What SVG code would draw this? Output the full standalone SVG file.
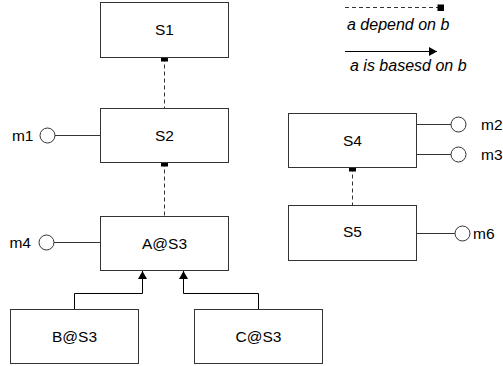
<svg xmlns="http://www.w3.org/2000/svg" width="503" height="366" viewBox="0 0 503 366">
  <style>
    .box { fill: #ffffff; stroke: #333333; stroke-width: 1; }
    .lbl { font-family: "Liberation Sans", Arial, sans-serif; font-size: 15.5px; fill: #000000; text-anchor: middle; }
    .port { font-family: "Liberation Sans", Arial, sans-serif; font-size: 15.5px; fill: #000000; }
    .legend { font-family: "Liberation Sans", Arial, sans-serif; font-size: 16px; font-style: italic; fill: #000000; }
    .dep { fill: none; stroke: #333333; stroke-width: 1; stroke-dasharray: 4 3; }
    .base { fill: none; stroke: #000000; stroke-width: 1; }
    .iface { fill: #ffffff; stroke: #333333; stroke-width: 1; }
    .wire { fill: none; stroke: #333333; stroke-width: 1; }
    .sq { fill: #000000; }
  </style>
  <defs>
    <marker id="arrow" viewBox="0 0 10 10" refX="10" refY="5" markerWidth="8" markerHeight="9" markerUnits="userSpaceOnUse" orient="auto" preserveAspectRatio="none">
      <path d="M0,0 L10,5 L0,10 Z" fill="#000000"/>
    </marker>
  </defs>

  <!-- legend -->
  <g id="legend">
    <line class="dep" x1="345" y1="7.5" x2="438" y2="7.5"/>
    <rect class="sq" x="437.5" y="4.5" width="6.5" height="6.5"/>
    <text class="legend" x="347" y="30">a depend on b</text>
    <line class="base" x1="345" y1="51.5" x2="437" y2="51.5" marker-end="url(#arrow)"/>
    <text class="legend" x="350" y="71">a is basesd on b</text>
  </g>

  <!-- connectors -->
  <g id="connectors">
    <!-- dependencies -->
    <line class="dep" x1="164.5" y1="57.5" x2="164.5" y2="108.5"/>
    <line class="dep" x1="164.5" y1="162.5" x2="164.5" y2="216.5"/>
    <line class="dep" x1="352.5" y1="167.5" x2="352.5" y2="205.5"/>
    <rect class="sq" x="161" y="54.5" width="7" height="7"/>
    <rect class="sq" x="161" y="159.5" width="7" height="7"/>
    <rect class="sq" x="349" y="164.5" width="7" height="7"/>
    <!-- basis -->
    <polyline class="base" points="74.5,309.5 74.5,293.5 142.5,293.5 142.5,271" marker-end="url(#arrow)"/>
    <polyline class="base" points="258.5,309.5 258.5,293.5 183.5,293.5 183.5,271" marker-end="url(#arrow)"/>
    <!-- interface wires -->
    <line class="wire" x1="55" y1="135.5" x2="100.5" y2="135.5"/>
    <line class="wire" x1="54" y1="242.5" x2="100.5" y2="242.5"/>
    <line class="wire" x1="416.5" y1="124.5" x2="451" y2="124.5"/>
    <line class="wire" x1="416.5" y1="154.5" x2="451" y2="154.5"/>
    <line class="wire" x1="416.5" y1="233.5" x2="455" y2="233.5"/>
  </g>

  <!-- nodes -->
  <g id="S1">
    <rect class="box" x="100.5" y="2.5" width="128" height="55"/>
    <text class="lbl" x="164.5" y="35">S1</text>
  </g>
  <g id="S2">
    <rect class="box" x="100.5" y="108.5" width="128" height="54"/>
    <text class="lbl" x="164.5" y="140.5">S2</text>
  </g>
  <g id="A_S3">
    <rect class="box" x="100.5" y="216.5" width="128" height="54"/>
    <text class="lbl" x="164.5" y="248.5">A@S3</text>
  </g>
  <g id="B_S3">
    <rect class="box" x="10.5" y="309.5" width="128" height="54"/>
    <text class="lbl" x="74.5" y="341.5">B@S3</text>
  </g>
  <g id="C_S3">
    <rect class="box" x="194.5" y="309.5" width="128" height="54"/>
    <text class="lbl" x="258.5" y="341.5">C@S3</text>
  </g>
  <g id="S4">
    <rect class="box" x="288.5" y="113.5" width="128" height="54"/>
    <text class="lbl" x="352.5" y="146">S4</text>
  </g>
  <g id="S5">
    <rect class="box" x="288.5" y="205.5" width="128" height="55"/>
    <text class="lbl" x="352.5" y="237">S5</text>
  </g>

  <!-- provided interfaces -->
  <g id="m1">
    <circle class="iface" cx="47.5" cy="135.5" r="7.5"/>
    <text class="port" x="33.5" y="141" text-anchor="end">m1</text>
  </g>
  <g id="m4">
    <circle class="iface" cx="46.5" cy="242.5" r="7.5"/>
    <text class="port" x="31" y="248" text-anchor="end">m4</text>
  </g>
  <g id="m2">
    <circle class="iface" cx="458.5" cy="124.5" r="7.5"/>
    <text class="port" x="481" y="130">m2</text>
  </g>
  <g id="m3">
    <circle class="iface" cx="458.5" cy="154.5" r="7.5"/>
    <text class="port" x="481" y="160">m3</text>
  </g>
  <g id="m6">
    <circle class="iface" cx="462.5" cy="233.5" r="7.5"/>
    <text class="port" x="473" y="239">m6</text>
  </g>
</svg>
